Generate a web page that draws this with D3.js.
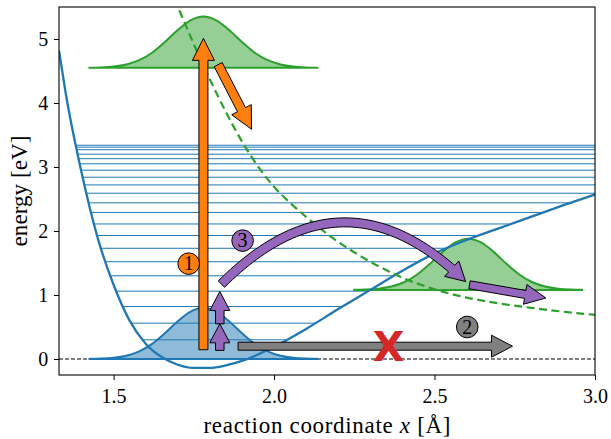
<!DOCTYPE html>
<html>
<head>
<meta charset="utf-8">
<script src="https://cdn.jsdelivr.net/npm/d3@7"></script>
<style>
  html, body { margin: 0; padding: 0; background: #fff; }
  svg { display: block; }
  text { font-family: "Liberation Serif", "DejaVu Serif", serif; fill: #000; }
</style>
</head>
<body>
<svg id="chart" width="611" height="439"></svg>
<script>
// ground state potential (Morse-like)
const morseX = [1.33, 1.35, 1.40, 1.45, 1.50, 1.55, 1.60, 1.65, 1.70, 1.75, 1.80, 1.85, 1.90,
                1.95, 2.00, 2.10, 2.20, 2.30, 2.40, 2.50, 2.60, 2.70, 2.80, 2.90, 3.00];
const morseE = [4.82, 4.18, 2.92, 1.90, 1.16, 0.60, 0.24, 0.03, -0.09, -0.14, -0.14, -0.10, -0.03,
                0.07, 0.19, 0.47, 0.78, 1.08, 1.38, 1.65, 1.86, 2.04, 2.22, 2.40, 2.57];

// vibrational levels [eV]
const levels = [0.00, 0.30, 0.56, 0.82, 1.06, 1.30, 1.52, 1.73, 1.93, 2.11, 2.29,
                2.44, 2.59, 2.72, 2.84, 2.95, 3.05, 3.13, 3.20, 3.27, 3.31, 3.34];

// excited (repulsive) state, dashed
const repulsiveX = [1.69, 1.70, 1.75, 1.80, 1.85, 1.90, 1.95, 2.00, 2.05, 2.10, 2.20,
                    2.30, 2.40, 2.50, 2.60, 2.70, 2.80, 2.90, 3.00];
const repulsiveE = [5.63, 5.51, 4.92, 4.37, 3.86, 3.40, 3.01, 2.69, 2.44, 2.22, 1.83,
                    1.52, 1.27, 1.09, 0.96, 0.87, 0.80, 0.74, 0.69];

// wavepacket profile (offset from centre, height)
const packetDx = [-0.355, -0.32, -0.28, -0.24, -0.20, -0.16, -0.12, -0.08, -0.04, 0,
                  0.04, 0.08, 0.12, 0.16, 0.20, 0.24, 0.28, 0.32, 0.355];
const packetH = [0.002, 0.006, 0.019, 0.052, 0.119, 0.236, 0.403, 0.590, 0.741, 0.80,
                 0.741, 0.590, 0.403, 0.236, 0.119, 0.052, 0.019, 0.006, 0.002];
const packetCenter = [1.78, 1.78, 2.605];
const packetBase = [0.0, 4.55, 1.08];

// arrows: [tail, tip] in data units
const exciteArrow = [[1.78, 0.145], [1.78, 5.01]];
const dissocArrow = [[1.826, 4.60], [1.93, 3.59]];
const tunnelArrow = [[1.888, 0.20], [2.743, 0.20]];
const vibArrowLow = [[1.831, 0.135], [1.831, 0.55]];
const vibArrowHigh = [[1.831, 0.55], [1.831, 1.055]];
const hopArrow = [[1.836, 1.17], [2.217, 3.08], [2.597, 1.21]]; // tail, control, tip
const slideArrow = [[2.609, 1.16], [2.847, 0.953]];

const badgeLabels = ['1', '2', '3'];
const badgeX = [1.734, 2.602, 1.902];
const badgeY = [1.49, 0.50, 1.85];
const blockedAt = [2.357, 0.20];

const xTicks = [1.5, 2.0, 2.5, 3.0];
const yTicks = [0, 1, 2, 3, 4, 5];

const C = { blue: '#1f77b4', orange: '#ff7f0e', green: '#2ca02c', red: '#d62728',
            purple: '#9467bd', gray: '#808080' };

const svg = d3.select('#chart');
const frame = { l: 59, r: 595, t: 7, b: 375 };
const x = d3.scaleLinear().domain([1.33, 3.0]).range([frame.l, frame.r]);
const y = d3.scaleLinear().domain([-0.25, 5.5]).range([frame.b, frame.t]);

svg.append('defs').append('clipPath').attr('id', 'plot')
  .append('rect').attr('x', frame.l).attr('y', frame.t)
  .attr('width', frame.r - frame.l).attr('height', frame.b - frame.t);

const plot = svg.append('g').attr('clip-path', 'url(#plot)');

// zero line
plot.append('line')
  .attr('x1', x(1.33)).attr('x2', x(3.0)).attr('y1', y(0)).attr('y2', y(0))
  .attr('stroke', '#000').attr('stroke-width', 1).attr('stroke-dasharray', '4,2');

// turning points of the potential for a level
const iMin = morseE.indexOf(d3.min(morseE));
function crossing(E, from, to) {
  for (let i = from; i < to; i++) {
    const a = morseE[i], b = morseE[i + 1];
    if ((a - E) * (b - E) <= 0 && a !== b) {
      return morseX[i] + (E - a) / (b - a) * (morseX[i + 1] - morseX[i]);
    }
  }
  return null;
}

plot.selectAll('.level').data(levels).join('line')
  .attr('class', 'level')
  .attr('x1', d => x(crossing(d, 0, iMin) ?? 1.33))
  .attr('x2', d => x(crossing(d, iMin, morseE.length - 1) ?? 3.0))
  .attr('y1', d => y(d)).attr('y2', d => y(d))
  .attr('stroke', C.blue).attr('stroke-width', 1);

// wavepackets
const packetColors = [C.blue, C.green, C.green];
packetCenter.forEach((c, k) => {
  const pts = packetDx.map((dx, i) => [c + dx, packetBase[k], packetBase[k] + packetH[i]]);
  const area = d3.area()
    .x(d => x(d[0])).y0(d => y(d[1])).y1(d => y(d[2]))
    .curve(d3.curveMonotoneX);
  plot.append('path').attr('d', area(pts))
    .attr('fill', packetColors[k]).attr('fill-opacity', 0.5)
    .attr('stroke', packetColors[k]).attr('stroke-width', 2);
});

// potential curves
const line = d3.line().x(d => x(d[0])).y(d => y(d[1])).curve(d3.curveMonotoneX);
plot.append('path')
  .attr('d', line(morseX.map((v, i) => [v, morseE[i]])))
  .attr('fill', 'none').attr('stroke', C.blue).attr('stroke-width', 2.3);

plot.append('path')
  .attr('d', line(repulsiveX.map((v, i) => [v, repulsiveE[i]])))
  .attr('fill', 'none').attr('stroke', C.green).attr('stroke-width', 2.2)
  .attr('stroke-dasharray', '8,4.5');

// ---- arrows ----
function unit(a, b) {
  const dx = b[0] - a[0], dy = b[1] - a[1], l = Math.hypot(dx, dy);
  return [dx / l, dy / l];
}

function arrowPath(pts, bw, hw, hl) {
  const seg = [];
  let total = 0;
  for (let i = 1; i < pts.length; i++) {
    const d = Math.hypot(pts[i][0] - pts[i - 1][0], pts[i][1] - pts[i - 1][1]);
    seg.push(d); total += d;
  }
  const stop = total - hl;
  const body = [pts[0]];
  let acc = 0, base = null;
  for (let i = 1; i < pts.length; i++) {
    if (acc + seg[i - 1] >= stop) {
      const t = (stop - acc) / seg[i - 1];
      base = [pts[i - 1][0] + t * (pts[i][0] - pts[i - 1][0]),
              pts[i - 1][1] + t * (pts[i][1] - pts[i - 1][1])];
      break;
    }
    acc += seg[i - 1];
    body.push(pts[i]);
  }
  body.push(base);
  const tip = pts[pts.length - 1];
  const hd = unit(base, tip);
  const L = [], R = [];
  body.forEach((p, i) => {
    const d = i === body.length - 1 ? hd : unit(body[Math.max(0, i - 1)], body[i + 1]);
    const n = [-d[1], d[0]];
    L.push([p[0] + n[0] * bw / 2, p[1] + n[1] * bw / 2]);
    R.push([p[0] - n[0] * bw / 2, p[1] - n[1] * bw / 2]);
  });
  const n = [-hd[1], hd[0]];
  const wl = [base[0] + n[0] * hw / 2, base[1] + n[1] * hw / 2];
  const wr = [base[0] - n[0] * hw / 2, base[1] - n[1] * hw / 2];
  const poly = [...L, wl, tip, wr, ...R.reverse()];
  return 'M' + poly.map(p => p[0].toFixed(2) + ',' + p[1].toFixed(2)).join('L') + 'Z';
}

const toPx = p => [x(p[0]), y(p[1])];

function drawArrow(pts, color, bw, hw, hl) {
  svg.append('path').attr('d', arrowPath(pts, bw, hw, hl))
    .attr('fill', color).attr('stroke', '#000').attr('stroke-width', 1)
    .attr('stroke-linejoin', 'miter');
}

drawArrow(exciteArrow.map(toPx), C.orange, 9, 22, 22);
drawArrow(dissocArrow.map(toPx), C.orange, 9, 22, 22);
drawArrow(tunnelArrow.map(toPx), C.gray, 8, 22, 21);
drawArrow(vibArrowLow.map(toPx), C.purple, 8.5, 20, 19);
drawArrow(vibArrowHigh.map(toPx), C.purple, 8.5, 20, 19);

const [h0, hc, h2] = hopArrow.map(toPx);
const hopPts = d3.range(0, 61).map(i => {
  const t = i / 60, u = 1 - t;
  return [u * u * h0[0] + 2 * u * t * hc[0] + t * t * h2[0],
          u * u * h0[1] + 2 * u * t * hc[1] + t * t * h2[1]];
});
drawArrow(hopPts, C.purple, 9, 21, 19);
drawArrow(slideArrow.map(toPx), C.purple, 8, 20, 21);

// blocked channel
svg.append('text')
  .attr('x', x(blockedAt[0])).attr('y', y(blockedAt[1]) + 15)
  .attr('text-anchor', 'middle')
  .style('font-family', '"DejaVu Sans", sans-serif')
  .style('font-weight', 'bold').style('font-size', '41px')
  .style('fill', C.red)
  .text('X');

// numbered badges
const badgeColors = [C.orange, C.gray, C.purple];
badgeLabels.forEach((lab, i) => {
  svg.append('circle')
    .attr('cx', x(badgeX[i])).attr('cy', y(badgeY[i])).attr('r', 10.8)
    .attr('fill', badgeColors[i]).attr('stroke', '#000').attr('stroke-width', 1);
  svg.append('text')
    .attr('x', x(badgeX[i])).attr('y', y(badgeY[i]) + 6.8)
    .attr('text-anchor', 'middle').style('font-size', '20px')
    .text(lab);
});

// ---- axes ----
const xAxis = svg.append('g').attr('transform', `translate(0,${frame.b})`)
  .call(d3.axisBottom(x).tickValues(xTicks).tickFormat(d3.format('.1f'))
    .tickSize(5).tickSizeOuter(0));
xAxis.select('.domain').remove();
xAxis.selectAll('text').attr('y', 27.7).attr('dy', null).style('font-size', '20px')
  .style('font-family', '"Liberation Serif", serif');

const yAxis = svg.append('g').attr('transform', `translate(${frame.l},0)`)
  .call(d3.axisLeft(y).tickValues(yTicks).tickFormat(d3.format('d'))
    .tickSize(5).tickPadding(5.7).tickSizeOuter(0));
yAxis.select('.domain').remove();
yAxis.selectAll('text').style('font-size', '20px')
  .style('font-family', '"Liberation Serif", serif');

svg.selectAll('.tick line').attr('stroke', '#000').attr('stroke-width', 1);

svg.append('rect')
  .attr('x', frame.l).attr('y', frame.t)
  .attr('width', frame.r - frame.l).attr('height', frame.b - frame.t)
  .attr('fill', 'none').attr('stroke', '#000').attr('stroke-width', 1.1);

const xl = svg.append('text')
  .attr('x', (frame.l + frame.r) / 2).attr('y', 433)
  .attr('text-anchor', 'middle').style('font-size', '23px')
  .attr('textLength', 247).attr('lengthAdjust', 'spacing');
xl.append('tspan').text('reaction coordinate ');
xl.append('tspan').style('font-style', 'italic').text('x');
xl.append('tspan').text(' [Å]');

svg.append('text')
  .attr('transform', `translate(27,${(frame.t + frame.b) / 2}) rotate(-90)`)
  .attr('text-anchor', 'middle').style('font-size', '23px')
  .attr('textLength', 111).attr('lengthAdjust', 'spacing')
  .text('energy [eV]');
</script>
</body>
</html>
